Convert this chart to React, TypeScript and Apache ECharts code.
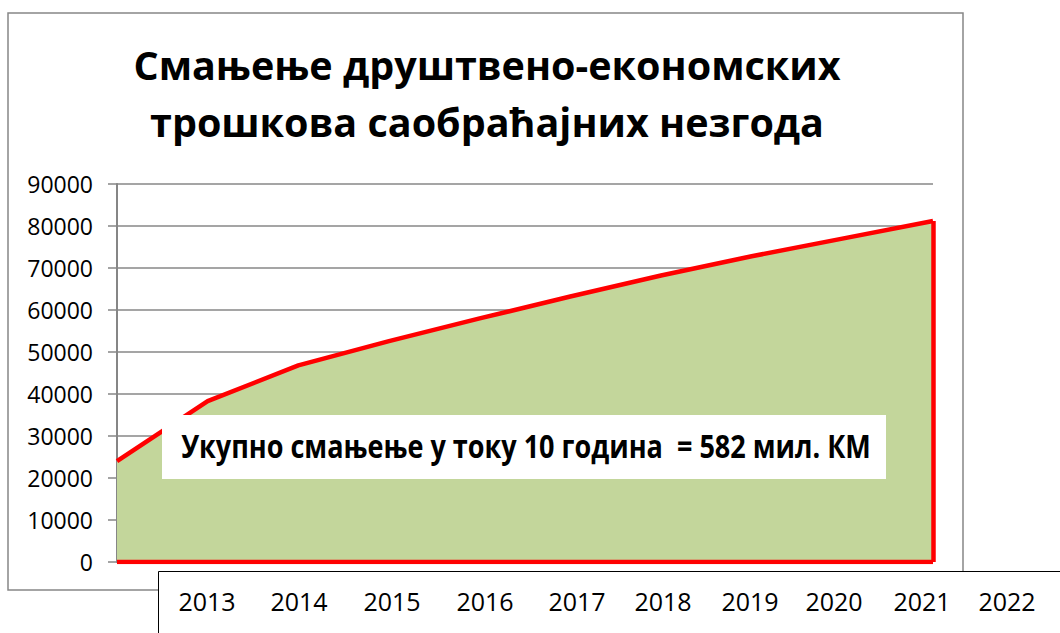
import React, { useEffect, useRef } from "react";
import * as echarts from "echarts";

const years = ["2013", "2014", "2015", "2016", "2017", "2018", "2019", "2020", "2021", "2022"];
const savings = [24000, 38300, 46800, 52600, 58000, 63200, 68200, 72800, 77000, 81200];
const baseline = [0, 0, 0, 0, 0, 0, 0, 0, 0, 0];
const yMin = 0;
const yMax = 90000;
const yStep = 10000;
const titleText = "Смањење друштвено-економских\nтрошкова саобраћајних незгода";
const noteText = "Укупно смањење у току 10 година  = 582 мил. КМ";

// horizontal nudges (px) of the year labels in the separate label box
const labelNudge = [0.5, 3.5, 7.5, 11.5, 14.5, 11.5, 9.5, 4.5, 3.5, -0.5];

const FONT = "'Open Sans', 'Noto Sans', sans-serif";

export default function App() {
  const ref = useRef<HTMLDivElement>(null);
  useEffect(() => {
    if (!ref.current) return;
    const chart = echarts.init(ref.current, null, { renderer: "svg" });
    const rich: Record<string, any> = {};
    labelNudge.forEach((d, i) => {
      rich["n" + i] = {
        fontSize: 25,
        fontFamily: FONT,
        color: "#000",
        padding: d >= 0 ? [0, 0, 0, 2 * d] : [0, -2 * d, 0, 0],
      };
    });
    const last = savings.length - 1;
    chart.setOption({
      animation: false,
      backgroundColor: "#fff",
      title: {
        text: titleText,
        left: 482,
        top: 31,
        textAlign: "center",
        textStyle: {
          fontFamily: FONT,
          fontWeight: "bold",
          fontSize: 39.5,
          lineHeight: 57,
          color: "#000",
        },
      },
      graphic: [
        {
          type: "rect",
          z: -10,
          shape: { x: 8, y: 13, width: 955, height: 577 },
          style: { fill: "#fff", stroke: "#878787", lineWidth: 1.5 },
        },
        {
          type: "rect",
          z: -5,
          shape: { x: 158.5, y: 571.5, width: 1000, height: 100 },
          style: { fill: "#fff", stroke: "#000", lineWidth: 1 },
        },
        {
          type: "group",
          z: 100,
          children: [
            {
              type: "rect",
              z: 100,
              shape: { x: 162, y: 415, width: 724, height: 64 },
              style: { fill: "#fff" },
            },
            {
              type: "text",
              z: 101,
              x: 526,
              y: 446,
              scaleX: 0.845,
              style: {
                text: noteText,
                fontFamily: FONT,
                fontWeight: "bold",
                fontSize: 32,
                fill: "#000",
                textAlign: "center",
                textVerticalAlign: "middle",
              },
            },
          ],
        },
      ],
      grid: [
        { left: 117, right: 127, top: 184, bottom: 71, containLabel: false },
        { left: 162, width: 890, top: 581, height: 20, containLabel: false },
      ],
      xAxis: [
        {
          type: "category",
          gridIndex: 0,
          data: years,
          boundaryGap: false,
          axisLine: { show: false },
          axisTick: { show: false },
          axisLabel: { show: false },
          splitLine: { show: false },
        },
        {
          type: "category",
          gridIndex: 1,
          data: years,
          boundaryGap: true,
          axisLine: { show: false },
          axisTick: { show: false },
          splitLine: { show: false },
          axisLabel: {
            margin: 0,
            verticalAlign: "middle",
            interval: 0,
            formatter: (v: string, i: number) => `{n${i}|${v}}`,
            rich,
          },
        },
      ],
      yAxis: [
        {
          type: "value",
          gridIndex: 0,
          min: yMin,
          max: yMax,
          interval: yStep,
          axisLine: { show: true, lineStyle: { color: "#868686", width: 2 } },
          axisTick: { show: true, inside: false, length: 9, lineStyle: { color: "#868686", width: 1.5 } },
          splitLine: { show: true, lineStyle: { color: "#878787", width: 1.5 } },
          axisLabel: {
            margin: 24,
            fontFamily: FONT,
            fontSize: 23,
            color: "#000",
            formatter: (v: number) => String(v),
          },
        },
        {
          type: "value",
          gridIndex: 1,
          show: false,
        },
      ],
      series: [
        {
          type: "line",
          xAxisIndex: 0,
          yAxisIndex: 0,
          data: savings,
          symbol: "none",
          lineStyle: { color: "#ff0000", width: 4.5 },
          areaStyle: { color: "#c3d69b", opacity: 1 },
          z: 3,
          markLine: {
            silent: true,
            symbol: ["none", "none"],
            label: { show: false },
            lineStyle: { color: "#ff0000", width: 4.5, type: "solid" },
            data: [[{ coord: [last, 0] }, { coord: [last, savings[last]] }]],
          },
        },
        {
          type: "line",
          xAxisIndex: 0,
          yAxisIndex: 0,
          data: baseline,
          symbol: "none",
          lineStyle: { color: "#ff0000", width: 4.5 },
          z: 4,
        },
      ],
    });
    return () => chart.dispose();
  }, []);
  return (
    <div
      ref={ref}
      style={{ position: "fixed", left: 0, top: 0, width: 1060, height: 633 }}
    />
  );
}
